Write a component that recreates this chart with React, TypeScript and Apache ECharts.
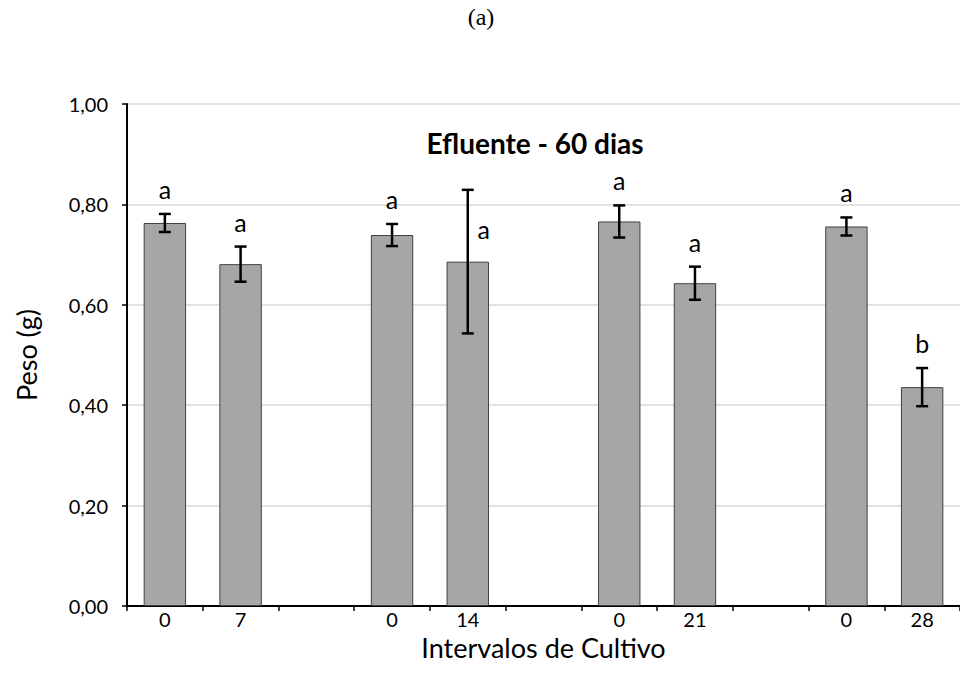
import React, { useEffect, useRef } from "react";
import * as echarts from "echarts";

const categories = ["0", "7", "", "0", "14", "", "0", "21", "", "0", "28"];
const means: (number | null)[] = [0.763, 0.681, null, 0.739, 0.686, null, 0.766, 0.643, null, 0.756, 0.436];
const errors: (number | null)[] = [0.018, 0.035, null, 0.022, 0.143, null, 0.032, 0.033, null, 0.018, 0.038];
const letters: string[] = ["a", "a", "", "a", "a", "", "a", "a", "", "a", "b"];
const yTicks = [0, 0.2, 0.4, 0.6, 0.8, 1.0];

const FONT = "Lato, 'Open Sans', sans-serif";
const SERIF = "Liberation Serif, DejaVu Serif, serif";

export default function App() {
  const ref = useRef<HTMLDivElement>(null);
  useEffect(() => {
    document.body.style.margin = "0";
    const chart = echarts.init(ref.current!, null, { renderer: "svg" });
    const errData = means
      .map((m, i) => (m == null ? null : [i, m, errors[i] as number, letters[i]]))
      .filter((d) => d != null);
    chart.setOption({
      animation: false,
      backgroundColor: "#ffffff",
      grid: { left: 127, right: -3, top: 104, bottom: 87, containLabel: false },
      title: [
        {
          text: "Efluente - 60 dias",
          left: 530,
          top: 124,
          textAlign: "center",
          textStyle: { fontFamily: FONT, fontSize: 28, fontWeight: "bold", color: "#000" },
        },
        {
          text: "(a)",
          left: 481,
          top: 5,
          textAlign: "center",
          padding: 0,
          textStyle: {
            fontFamily: SERIF,
            fontSize: 24,
            fontWeight: "normal",
            color: "#000",
          },
        },
      ],
      xAxis: {
        type: "category",
        data: categories,
        name: "Intervalos de Cultivo",
        nameLocation: "middle",
        nameGap: 26,
        nameTextStyle: { fontFamily: FONT, fontSize: 27, color: "#000" },
        axisLine: { lineStyle: { color: "#000", width: 2 } },
        axisTick: { show: true, interval: 0, alignWithLabel: false, length: 5, lineStyle: { color: "#000", width: 1.5 } },
        axisLabel: { interval: 0, margin: 3, fontFamily: FONT, fontSize: 20, color: "#000" },
        splitLine: { show: false },
      },
      yAxis: {
        type: "value",
        min: yTicks[0],
        max: yTicks[yTicks.length - 1],
        interval: 0.2,
        name: "Peso (g)",
        nameLocation: "middle",
        nameGap: 87,
        nameTextStyle: { fontFamily: FONT, fontSize: 27, color: "#000" },
        axisLine: { show: true, lineStyle: { color: "#000", width: 2 } },
        axisTick: { show: true, length: 5, lineStyle: { color: "#000", width: 1.5 } },
        axisLabel: {
          margin: 19,
          fontFamily: FONT,
          fontSize: 20,
          color: "#000",
          formatter: (v: number) => v.toFixed(2).replace(".", ","),
        },
        splitLine: { show: true, lineStyle: { color: "#d9d9d9", width: 1.5 } },
      },
      series: [
        {
          type: "bar",
          data: means,
          barWidth: "56%",
          itemStyle: { color: "#a6a6a6", borderColor: "#404040", borderWidth: 1 },
          z: 2,
        },
        {
          type: "custom",
          data: errData,
          z: 5,
          renderItem: (params: any, api: any) => {
            const x = api.value(0);
            const m = api.value(1);
            const e = api.value(2);
            const idx = params.dataIndex;
            const letter = (errData[idx] as any[])[3];
            const top = api.coord([x, m + e]);
            const bot = api.coord([x, m - e]);
            const barTop = api.coord([x, m]);
            const cap = 6;
            const style = { stroke: "#000", lineWidth: 2.5 };
            const big = e > 0.1;
            const letterPos = big ? [top[0] + 16, barTop[1] - 33] : [top[0], top[1] - 25];
            return {
              type: "group",
              children: [
                { type: "line", shape: { x1: top[0], y1: top[1], x2: bot[0], y2: bot[1] }, style },
                { type: "line", shape: { x1: top[0] - cap, y1: top[1], x2: top[0] + cap, y2: top[1] }, style },
                { type: "line", shape: { x1: bot[0] - cap, y1: bot[1], x2: bot[0] + cap, y2: bot[1] }, style },
                {
                  type: "text",
                  x: letterPos[0],
                  y: letterPos[1],
                  style: {
                    text: letter,
                    fill: "#000",
                    fontSize: 25,
                    fontFamily: FONT,
                    align: "center",
                    verticalAlign: "middle",
                  },
                },
              ],
            };
          },
        },
      ],
    });
    return () => chart.dispose();
  }, []);
  return <div ref={ref} style={{ width: 960, height: 693 }} />;
}
